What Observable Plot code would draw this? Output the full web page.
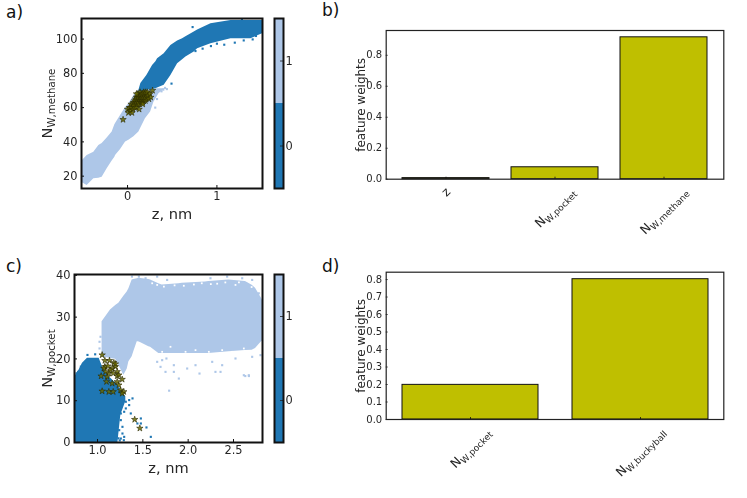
<!DOCTYPE html>
<html><head><meta charset="utf-8">
<style>
html,body{margin:0;padding:0;background:#fff;width:747px;height:498px;overflow:hidden}
#chart{position:relative;width:747px;height:498px;font-family:"DejaVu Sans",sans-serif}
#chart svg{filter:blur(0.3px)}
.letter{position:absolute;font-size:17px;line-height:1;color:#111}
</style>
<script src="https://cdn.jsdelivr.net/npm/d3@7"></script>
<script src="https://cdn.jsdelivr.net/npm/@observablehq/plot@0.6"></script>
</head><body><div id="chart"></div>
<script>
const darkBlue="#1f77b4", lightBlue="#aec7e8", barFill="#bfbf00", scatterFill="#6b6b00";

// panel a: band edges
const aLightZ =[-0.515,-0.452,-0.377,-0.321,-0.284,-0.228,-0.172,-0.142,-0.134,-0.078,-0.041,-0.022,0.015,0.071,0.127,0.2,0.258,0.295,0.351,0.42];
const aLightHi=[28.6,32.1,34,37.9,39,42.2,45.7,50,50.8,55.4,58.4,60,62.3,67.1,70.5,71,71,71,71,71];
const aLightLo=[16.5,14.6,18.5,18.8,19.4,24.3,28.8,31,32.1,35.5,38.5,39.9,41,43,45.7,53.5,57.4,63.2,68.1,71];
const aDarkZ  =[0.13,0.149,0.216,0.28,0.317,0.336,0.41,0.485,0.56,0.616,0.653,0.746,0.784,0.933,1.157,1.38,1.51];
const aDarkHi =[70.6,74,78.8,84.6,86.8,88.5,91.4,96.3,98.8,100.2,101.3,104.1,105.3,109,110.9,110.9,110.9];
const aDarkLo =[68.7,69.2,70.2,70.7,71,71.5,73,78.8,85.6,88,89.5,92.5,94.4,97.3,100.2,100.2,103.1];
const aDarkOutZ=[0.492,0.728,0.347,1.082,1.2,0.933,1.4,0.84,1.437,0.76,1.0,1.3,1.28];
const aDarkOutN=[74,107,87.6,96.7,97.9,95.9,99.8,94.4,101.8,93,97.3,99.2,111.6];
const aLightOutZ=[0.42,0.38,0.4,0.44,0.33,0.31];
const aLightOutN=[71.5,69.5,70.5,70.8,65,60];
const aStarZ=[-0.05,0.0,0.01,0.02,0.03,0.04,0.04,0.05,0.06,0.06,0.07,0.07,0.08,0.08,0.09,0.09,0.1,0.1,0.1,0.11,0.11,0.12,0.12,0.12,0.13,0.13,0.14,0.14,0.14,0.15,0.15,0.15,0.16,0.16,0.16,0.17,0.17,0.17,0.18,0.18,0.18,0.19,0.19,0.2,0.2,0.2,0.21,0.21,0.22,0.22,0.23,0.24,0.25,0.26,0.28,0.1,0.17,0.13];
const aStarN=[53,59,57,60,58,60,62,57,59,62,61,63,60,64,62,65,60,63,66,62,65,63,66,68,62,65,64,66,69,63,65,67,64,66,68,63,65,68,64,66,69,65,68,64,66,69,65,68,66,69,67,65,68,66,70,68,62,59];

// panel c: band edges
const cLightZ =[1.05,1.143,1.2,1.235,1.29,1.327,1.346,1.382,1.40,1.438,1.456,1.566,1.585,1.676,1.713,1.897,1.934,2.19,2.228,2.449,2.632,2.706,2.743,2.809,2.82];
const cLightHi=[28.9,31.7,32.8,33.3,35,36,36.8,38.9,39,39.2,39.3,39,38.9,38,37.7,38,38.1,38.4,38.5,38.9,38.5,37.6,36.9,34.5,34];
const cLightLo=[20.5,20.1,19.9,18.5,16.1,17.5,19.3,20.5,21.7,24.1,24.1,22.9,22.8,21.3,21.3,21.3,21.3,21.3,21.3,21.7,22,22.1,22.5,24.1,24.2];
const cDarkZ  =[0.746,0.761,0.797,0.834,0.889,1.018,1.055,1.11,1.202,1.225,1.257,1.312];
const cDarkHi =[15.9,16.15,17.35,18.95,20.15,20.15,18.15,16.15,14.15,13.7,12.55,10.95];
const cDarkLo =[0,0,0,0,0,0,0,0,0,0,6.5,9.8];
const cLightOutZ=[1.022,1.022,1.033,1.713,1.76,1.842,1.75,1.842,1.897,1.989,2.081,2.265,2.301,2.357,2.375,2.522,2.614,2.669,2.706,2.798,2.125,1.658,1.695,1.529,1.456,1.38,1.456,1.53,1.658,1.768,2.246,2.43,2.596,2.706,2.779,1.79,2.63,2.67];
const cLightOutN=[24.1,22.5,25.3,19.7,20.1,18.5,16.9,16.9,15.3,17.7,18.5,19.3,16.9,16.9,18.5,20.1,16.1,16.1,20.5,20.9,16.5,19.3,18.1,23.9,24.5,39.7,39.7,39.3,39.7,38.9,39.3,39.7,39.3,38.9,35.7,12.4,15.9,15.9];
const cGapZ=[1.603,1.658,1.732,1.952,2.063,2.25,2.41,2.522,1.713,1.805,1.971,2.081,2.228,2.375,2.485,2.614,2.779,1.85,2.15,2.32,2.56,2.7];
const cGapN=[38.1,37.7,37.3,37.5,37.8,37.9,38.3,37.7,21.7,22.9,21.7,22.1,21.7,22.1,21.7,22.5,22.9,37.6,38.1,38,38.3,37.2];
const cDarkOutZ=[1.239,1.275,1.257,1.294,1.257,1.275,1.312,1.349,1.312,1.294,1.367,1.257,1.349,1.386,1.478,1.54,1.588,1.478,1.44,1.23,1.245,0.889,0.974,0.816,0.768,0.785,1.29];
const cDarkOutN=[2.95,3.75,5.35,1.35,0.95,2.15,9.75,10.15,8.15,7.35,6.95,6.95,8.95,10.55,4.55,3.6,1.35,5.75,4.55,1,0.5,20.95,21.1,18.15,16.55,16.9,0.55];
const cStarZ=[1.051,1.081,1.081,1.04,1.051,1.132,1.18,1.198,1.162,1.217,1.125,1.106,1.07,1.143,1.088,1.173,1.217,1.272,1.217,1.235,1.125,1.173,1.099,1.162,1.253,1.29,1.272,1.198,1.235,1.114,1.41,1.467];
const cStarN=[20.95,19.6,18.15,15.9,12.3,19.6,19.1,18.15,17.75,16.95,16.55,15.75,17.75,17.35,16.95,16.55,15.9,15.1,14.55,13.75,12.15,12.15,14.55,14.15,12.55,12.15,11.75,18.8,16.15,18.3,5.5,3.4];

// panels b, d
const bCats=["z","N_W,pocket","N_W,methane"], bWeights=[0.007,0.077,0.916];
const dCats=["N_W,pocket","N_W,buckyball"], dWeights=[0.198,0.802];
const aXTicks=[0,1], aYTicks=[20,40,60,80,100];
const cXTicks=[1,1.5,2,2.5], cYTicks=[0,10,20,30,40];
const bYTicks=[0,0.2,0.4,0.6,0.8], dYTicks=[0,0.1,0.2,0.3,0.4,0.5,0.6,0.7,0.8];

const root=document.getElementById("chart");
const font={fontFamily:"'DejaVu Sans',sans-serif",color:"#262626",background:"transparent"};
const ns="http://www.w3.org/2000/svg";

function sub(svg,size,small){
  svg.querySelectorAll("text").forEach(t=>{
    const tgt=t.querySelector("tspan")||t;
    const s=tgt.textContent;
    if(s.startsWith("N_")){
      tgt.textContent="";
      const a=document.createElementNS(ns,"tspan");a.textContent="N";a.style.fontSize=size+"px";
      const b=document.createElementNS(ns,"tspan");b.textContent=s.slice(2);b.style.fontSize=small+"px";b.setAttribute("dy","3");
      tgt.append(a,b);
    }
  });
}
function place(el,left,top){el.style.position="absolute";el.style.left=left+"px";el.style.top=top+"px";root.append(el);return el;}

function scatterPanel(o){
  const fw=o.w-o.ml-o.mr, fh=o.h-o.mt-o.mb;
  const svg=Plot.plot({
    width:o.w,height:o.h,marginLeft:o.ml,marginRight:o.mr,marginTop:o.mt,marginBottom:o.mb,style:{...font,fontSize:"11.4px"},
    x:{domain:o.xd},y:{domain:o.yd},
    marks:[
      Plot.areaY(o.lZ,{x:o.lZ,y1:o.lLo,y2:o.lHi,fill:lightBlue,clip:true}),
      Plot.dot(o.loZ,{x:o.loZ,y:o.loN,symbol:"square",r:1.2,fill:lightBlue,clip:true}),
      Plot.dot(o.gZ,{x:o.gZ,y:o.gN,symbol:"square",r:1,fill:"#fff",clip:true}),
      Plot.areaY(o.dZ,{x:o.dZ,y1:o.dLo,y2:o.dHi,fill:darkBlue,clip:true}),
      Plot.dot(o.doZ,{x:o.doZ,y:o.doN,symbol:"square",r:1.2,fill:darkBlue,clip:true}),
      Plot.dot(o.sZ,{x:o.sZ,y:o.sN,symbol:"star",r:2,fill:scatterFill,fillOpacity:.85,stroke:"#2b2b00",strokeWidth:.6}),
      Plot.tickX(o.xt,{x:d=>d,insetTop:fh-3,stroke:"#111",strokeWidth:1}),
      Plot.tickY(o.yt,{y:d=>d,insetRight:fw-3,stroke:"#111",strokeWidth:1}),
      Plot.axisX({ticks:o.xt,tickSize:0,tickPadding:3,label:null,tickFormat:o.xf,fontSize:11.4}),
      Plot.axisY({ticks:o.yt,tickSize:0,tickPadding:4,label:null,fontSize:11.4}),
      Plot.frame({stroke:"#111",strokeWidth:2}),
      Plot.text(["z, nm"],{frameAnchor:"bottom",dy:30,fontSize:14.6,fill:"#262626"}),
      Plot.text([o.yl],{frameAnchor:"left",rotate:-90,textAnchor:"middle",dx:-o.ydx,fontSize:14.5,fill:"#262626"})
    ]});
  sub(svg,14.5,10.2);return place(svg,o.left,o.top);
}
function colorbar(left,top,h){
  const svg=Plot.plot({width:40,height:h+4,marginLeft:3,marginRight:28,marginTop:2,marginBottom:2,style:{...font,fontSize:"11.4px"},
    y:{domain:[-0.5,1.5]},
    marks:[
      Plot.barY([0],{y1:-0.5,y2:0.5,fill:darkBlue,inset:0}),
      Plot.barY([1],{y1:0.5,y2:1.5,fill:lightBlue,inset:0}),
      Plot.tickY([0,1],{y:d=>d,insetLeft:6,stroke:"#222",strokeWidth:.8}),
      Plot.axisY({anchor:"right",ticks:[0,1],tickSize:0,tickPadding:2,label:null,tickFormat:d=>String(d),fontSize:11.4}),
      Plot.frame({stroke:"#111",strokeWidth:2})
    ]});
  return place(svg,left,top);
}
function barPanel(o){
  const fw=o.w-o.ml-o.mr, fh=o.h-o.mt-o.mb;
  const svg=Plot.plot({width:o.w,height:o.h,marginLeft:o.ml,marginRight:o.mr,marginTop:o.mt,marginBottom:o.mb,style:{...font,fontSize:"10px"},
    x:{domain:o.cats,paddingInner:.2,paddingOuter:o.po,align:.5},y:{domain:o.yd},
    marks:[
      Plot.barY(o.cats,{x:d=>d,y:(d,i)=>o.vals[i],fill:barFill,stroke:"#111",strokeWidth:1}),
      Plot.tickX(o.cats,{x:d=>d,insetTop:fh-2,stroke:"#111",strokeWidth:.8}),
      Plot.tickY(o.yt,{y:d=>d,insetRight:fw-2,stroke:"#111",strokeWidth:.8}),
      Plot.axisX({tickSize:0,tickRotate:-45,label:null,tickFormat:d=>d,fontSize:12.5,fill:"#262626"}),
      Plot.axisY({ticks:o.yt,tickSize:0,tickPadding:4,label:null,tickFormat:d3.format(".1f"),fontSize:10}),
      Plot.frame({stroke:"#222",strokeWidth:1.2}),
      Plot.text(["feature weights"],{frameAnchor:"left",rotate:-90,textAnchor:"middle",dx:-o.ydx,fontSize:12,fill:"#262626"})
    ]});
  sub(svg,12.5,8.9);place(svg,o.left,o.top);
  const frameBottom=svg.getBoundingClientRect().top+o.h-o.mb;
  svg.querySelectorAll('g[aria-label="x-axis tick label"] text').forEach(t=>{
    t.setAttribute("text-anchor","middle");
    const r0=t.getBoundingClientRect();
    const tr=t.getAttribute("transform")||"";
    t.setAttribute("transform",`translate(0,${frameBottom+o.lab-r0.top}) `+tr);
  });
  return svg;
}
function letter(s,left,top){const d=document.createElement("div");d.className="letter";d.textContent=s;d.style.left=left+"px";d.style.top=top+"px";root.append(d);}

letter("a)",6,4);letter("b)",322,2);letter("c)",6,258);letter("d)",322,258);

scatterPanel({left:0,top:0,w:270,h:235,ml:81,mr:8,mt:18,mb:47,xd:[-0.515,1.51],yd:[12.8,112],xt:aXTicks,yt:aYTicks,xf:d=>String(d),
  lZ:aLightZ,lLo:aLightLo,lHi:aLightHi,dZ:aDarkZ,dLo:aDarkLo,dHi:aDarkHi,loZ:aLightOutZ,loN:aLightOutN,gZ:[],gN:[],doZ:aDarkOutZ,doN:aDarkOutN,sZ:aStarZ,sN:aStarN,yl:"N_W,methane",ydx:34});
colorbar(271,16,170);
scatterPanel({left:0,top:250,w:270,h:240,ml:74,mr:8,mt:24,mb:48,xd:[0.746,2.82],yd:[0,40.2],xt:cXTicks,yt:cYTicks,xf:d3.format(".1f"),
  lZ:cLightZ,lLo:cLightLo,lHi:cLightHi,dZ:cDarkZ,dLo:cDarkLo,dHi:cDarkHi,loZ:cLightOutZ,loN:cLightOutN,gZ:cGapZ,gN:cGapN,doZ:cDarkOutZ,doN:cDarkOutN,sZ:cStarZ,sN:cStarN,yl:"N_W,pocket",ydx:27});
colorbar(271,272,168);
barPanel({left:320,top:0,w:427,h:240,ml:65.7,mr:23.7,mt:30,mb:61.3,cats:bCats,vals:bWeights,yd:[0,0.96],yt:bYTicks,po:.14,ydx:25,lab:5});
barPanel({left:320,top:250,w:427,h:240,ml:65.7,mr:23.7,mt:21.7,mb:71,cats:dCats,vals:dWeights,yd:[0,0.842],yt:dYTicks,po:.0915,ydx:25,lab:5});
</script></body></html>
